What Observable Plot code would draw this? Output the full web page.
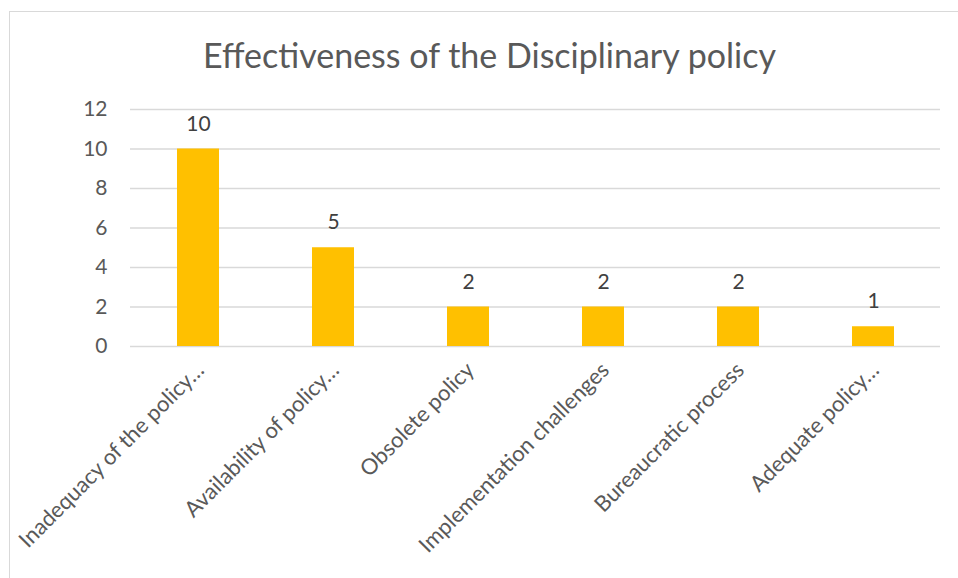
<!DOCTYPE html>
<html>
<head>
<meta charset="utf-8">
<script src="https://cdn.jsdelivr.net/npm/d3@7"></script>
<script src="https://cdn.jsdelivr.net/npm/@observablehq/plot@0.6"></script>
<style>
  html, body { margin: 0; padding: 0; background: #fff; overflow: hidden; }
  body { width: 958px; height: 578px; position: relative; font-family: Lato, "Noto Sans", sans-serif; }
  #frame { position: absolute; left: 9px; top: 11px; width: 961px; height: 600px; border: 1px solid #d9d9d9; box-sizing: border-box; }
  #title { position: absolute; left: 0; top: 0; width: 979px; height: 90px; text-align: center; color: #595959; font-size: 34px; line-height: 1; padding-top: 38px; box-sizing: border-box; }
  #chart { position: absolute; left: 0; top: 90px; }
</style>
</head>
<body>
<div id="frame"></div>
<div id="title">Effectiveness of the Disciplinary policy</div>
<div id="chart"></div>
<script>
const categories = [
  "Inadequacy of the policy…",
  "Availability of policy…",
  "Obsolete policy",
  "Implementation challenges",
  "Bureaucratic process",
  "Adequate policy…"
];
const values = [10, 5, 2, 2, 2, 1];
const yTicks = [0, 2, 4, 6, 8, 10, 12];

const data = categories.map((c, i) => ({category: c, value: values[i]}));

const chart = Plot.plot({
  width: 958,
  height: 488,
  marginLeft: 130,
  marginRight: 18,
  marginTop: 19,
  marginBottom: 232,
  style: {fontFamily: "Lato, 'Noto Sans', sans-serif", background: "transparent"},
  x: {domain: categories, paddingInner: 0.69, paddingOuter: 0.345, label: null},
  y: {domain: [0, 12], label: null},
  marks: [
    Plot.gridY(yTicks, {stroke: "#d9d9d9", strokeOpacity: 1, strokeWidth: 1.3}),
    Plot.barY(data, {x: "category", y: "value", fill: "#FFC000"}),
    Plot.text(data, {x: "category", y: "value", text: d => String(d.value), dy: -25, fill: "#404040", fontSize: 21}),
    Plot.axisY(yTicks, {tickSize: 0, tickPadding: 23, fontSize: 21, fill: "#595959", label: null}),
    Plot.axisX({tickSize: 0, tickRotate: -45, tickPadding: 20, fontSize: 22, fill: "#595959", label: null, dx: 2})
  ]
});
document.getElementById("chart").appendChild(chart);
</script>
</body>
</html>
